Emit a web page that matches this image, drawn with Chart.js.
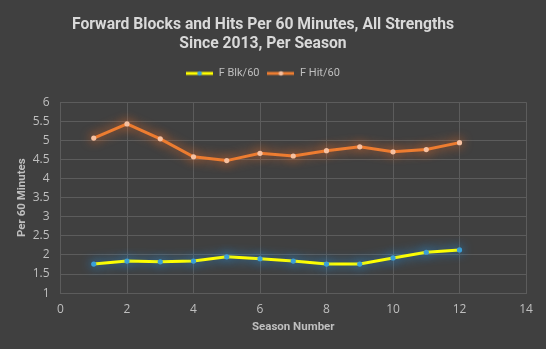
<!DOCTYPE html>
<html>
<head>
<meta charset="utf-8">
<script src="https://cdn.jsdelivr.net/npm/chart.js@4.4.1/dist/chart.umd.min.js"></script>
<style>
  html, body { margin: 0; padding: 0; background: #404040; }
  #wrap { width: 546px; height: 349px; position: relative; }
</style>
</head>
<body>
<div id="wrap"><canvas id="chart"></canvas></div>
<script>
// season numbers and per-60 rates
const seasons = [1, 2, 3, 4, 5, 6, 7, 8, 9, 10, 11, 12];
const blocksPer60 = [1.76, 1.84, 1.82, 1.84, 1.95, 1.90, 1.84, 1.76, 1.76, 1.92, 2.07, 2.13];
const hitsPer60 = [5.06, 5.43, 5.04, 4.57, 4.47, 4.66, 4.59, 4.73, 4.83, 4.70, 4.76, 4.94];

const textColor = '#bfbfbf';
const titleColor = '#d9d9d9';
const gridColor = '#5c5c5c';

// little line-with-dot swatch used in the legend
function swatch(lineColor, dotColor) {
    const c = document.createElement('canvas');
    c.width = 27; c.height = 8;
    const g = c.getContext('2d');
    g.strokeStyle = lineColor;
    g.lineWidth = 3;
    g.beginPath(); g.moveTo(0, 4); g.lineTo(27, 4); g.stroke();
    g.fillStyle = dotColor;
    g.beginPath(); g.arc(13.5, 4, 2.3, 0, Math.PI * 2); g.fill();
    return c;
}

// soft glow behind each series line
const glow = {
    id: 'glow',
    beforeDatasetDraw(chart, args) {
        const ds = chart.data.datasets[args.index];
        chart.ctx.save();
        chart.ctx.shadowColor = ds.glowColor;
        chart.ctx.shadowBlur = 11;
    },
    afterDatasetDraw(chart) {
        chart.ctx.restore();
    }
};

// empty box between the legend and the plot, for some breathing room
const legendGap = {
    id: 'legendGap',
    beforeInit(chart) {
        Chart.layouts.addBox(chart, {
            position: 'top',
            weight: 500,
            fullSize: true,
            options: {},
            isHorizontal() { return true; },
            update(maxWidth) { this.width = maxWidth; this.height = 13.25; },
            draw() {},
        });
    },
};

const toPoints = (ys) => seasons.map((x, i) => ({ x: x, y: ys[i] }));

new Chart(document.getElementById('chart'), {
    type: 'scatter',
    data: {
        datasets: [
            {
                label: 'F Blk/60',
                data: toPoints(blocksPer60),
                showLine: true,
                borderColor: '#ffff00',
                borderWidth: 3,
                pointRadius: 2.6,
                pointBackgroundColor: '#3a9fd8',
                pointBorderWidth: 0,
                glowColor: 'rgba(40,150,230,0.95)',
                legendImg: swatch('#ffff00', '#3a9fd8'),
            },
            {
                label: 'F Hit/60',
                data: toPoints(hitsPer60),
                showLine: true,
                borderColor: '#ed7d31',
                borderWidth: 3,
                pointRadius: 2.6,
                pointBackgroundColor: '#f6c0a0',
                pointBorderWidth: 0,
                glowColor: 'rgba(240,110,40,0.95)',
                legendImg: swatch('#ed7d31', '#f6c0a0'),
            },
        ],
    },
    options: {
        responsive: true,
        maintainAspectRatio: false,
        animation: false,
        layout: { padding: { left: 0, right: 20, top: 0, bottom: 15 } },
        plugins: {
            title: {
                display: true,
                text: ['Forward Blocks and Hits Per 60 Minutes, All Strengths', 'Since 2013, Per Season'],
                color: titleColor,
                font: { family: 'Roboto', size: 15.7, weight: 'bold' },
                lineHeight: 1.4,
                padding: { top: 16, bottom: 6.25 },
            },
            legend: {
                labels: {
                    color: textColor,
                    font: { family: 'Roboto', size: 11 },
                    usePointStyle: true,
                    pointStyleWidth: 27,
                    boxHeight: 8,
                    padding: 8,
                    generateLabels(chart) {
                        return chart.data.datasets.map((ds, i) => ({
                            text: ds.label,
                            pointStyle: ds.legendImg,
                            fontColor: textColor,
                            datasetIndex: i,
                            lineWidth: 0,
                        }));
                    },
                },
            },
            tooltip: { enabled: false },
        },
        scales: {
            x: {
                type: 'linear',
                min: 0,
                max: 14,
                afterFit: (scale) => { scale.height = 40.9; },
                ticks: { stepSize: 2, color: textColor, font: { family: 'Open Sans', size: 12 }, padding: 9 },
                grid: { color: gridColor, drawTicks: false },
                border: { color: gridColor },
                title: {
                    display: true,
                    text: 'Season Number',
                    color: textColor,
                    font: { family: 'Roboto', size: 11.5, weight: 'bold' },
                    padding: { top: 4, bottom: 0 },
                },
            },
            y: {
                min: 1,
                max: 6,
                afterFit: (scale) => { scale.width = 60.5; },
                ticks: {
                    stepSize: 0.5,
                    color: textColor,
                    font: { family: 'Open Sans', size: 12 },
                    padding: 11,
                    callback: (v) => String(v),
                },
                grid: { color: gridColor, drawTicks: false },
                border: { color: gridColor },
                title: {
                    display: true,
                    text: 'Per 60 Minutes',
                    color: textColor,
                    font: { family: 'Roboto', size: 11.5, weight: 'bold' },
                    padding: { top: 15, bottom: 0 },
                },
            },
        },
    },
    plugins: [glow, legendGap],
});
</script>
</body>
</html>
